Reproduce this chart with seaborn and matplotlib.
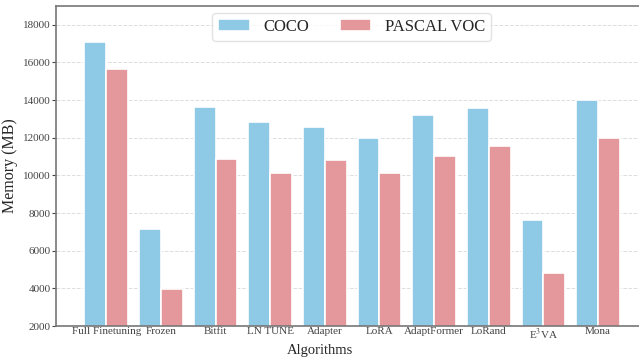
import numpy as np
import matplotlib
matplotlib.use("Agg")
import matplotlib.pyplot as plt
import seaborn as sns
import pandas as pd

algorithms = ["Full Finetuning", "Frozen", "Bitfit", "LN TUNE", "Adapter", "LoRA",
              "AdaptFormer", "LoRand", "E$^3$VA", "Mona"]
coco = [17061, 7137, 13657, 12831, 12557, 11975, 13186, 13598, 7639, 13996]
voc = [15679, 3967, 10861, 10123, 10793, 10127, 11036, 11572, 4819, 11970]
datasets = ["COCO", "PASCAL VOC"]

df = pd.DataFrame({
    "Algorithm": algorithms * 2,
    "Memory": coco + voc,
    "Dataset": [datasets[0]] * len(coco) + [datasets[1]] * len(voc),
})

sns.set_style("white")
plt.rcParams['font.family'] = ['Liberation Serif', 'DejaVu Serif']
plt.rcParams['mathtext.fontset'] = 'stix'

fig = plt.figure(figsize=(6.39, 3.58), dpi=100)
ax = fig.add_axes([56 / 639, 32 / 358, 583 / 639, 320 / 358])

palette = ['#8ec9e6', '#e4989c']
sns.barplot(data=df, x="Algorithm", y="Memory", hue="Dataset", palette=palette,
            saturation=1, edgecolor="white", linewidth=1.2, width=0.8, ax=ax)

ax.set_ylim(2000, 19000)
ax.set_xlim(-0.92, 9.75)
ax.set_yticks(np.arange(2000, 18001, 2000))
ax.yaxis.grid(True, linestyle="--", color="#dddddd", linewidth=0.7)
ax.set_axisbelow(True)

for s in ["left", "bottom", "top"]:
    ax.spines[s].set_color("#777777")
    ax.spines[s].set_linewidth(1.2)
ax.spines["right"].set_visible(False)

ax.tick_params(axis="y", labelsize=8, colors="#444444", length=3, width=0.8, left=True, pad=1)
ax.tick_params(axis="x", labelsize=8, colors="#444444", length=0, pad=1)
ax.set_ylabel("Memory (MB)", fontsize=11.5)
ax.set_xlabel("Algorithms", fontsize=10.5, va="bottom")
ax.yaxis.set_label_coords(-0.065, 0.5)
ax.xaxis.set_label_coords(0.5, 0.6 / 358, transform=fig.transFigure)

leg = ax.legend(loc="upper center", ncol=2, fontsize=12, frameon=True,
                bbox_to_anchor=(0.507, 0.978), handlelength=1.9, columnspacing=1.85,
                borderpad=0.35, handletextpad=0.8, borderaxespad=0)
leg.get_frame().set_edgecolor("#dddddd")

fig.savefig("out.png", dpi=100)
